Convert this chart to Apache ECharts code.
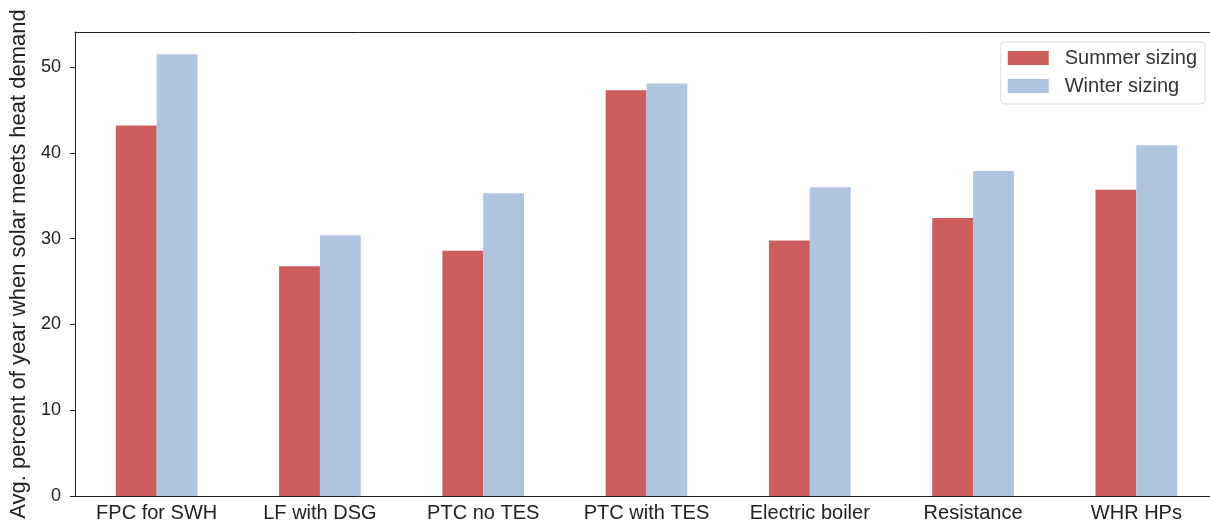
<!DOCTYPE html>
<html><head><meta charset="utf-8">
<script src="https://cdn.jsdelivr.net/npm/echarts@6/dist/echarts.min.js"></script>
<style>html,body{margin:0;padding:0;background:#fff}#c{width:1210px;height:527px}</style>
</head><body><div id="c"></div>
<script>
const categories = ["FPC for SWH","LF with DSG","PTC no TES","PTC with TES","Electric boiler","Resistance","WHR HPs"];
const summerSizing = [43.2, 26.8, 28.6, 47.3, 29.8, 32.4, 35.7];
const winterSizing = [51.5, 30.4, 35.3, 48.1, 36.0, 37.9, 40.9];
const seriesNames = ["Summer sizing","Winter sizing"];
const yAxisTitle = "Avg. percent of year when solar meets heat demand";

const chart = echarts.init(document.getElementById('c'));
const font = "'Liberation Sans', Arial, sans-serif";
chart.setOption({
  animation:false,
  grid:{left:75, top:32, bottom:31, right:-8, containLabel:false, outerBoundsMode:'none'},
  legend:{
    right:5, top:42, orient:'vertical',
    data:seriesNames,
    itemWidth:41, itemHeight:14, itemGap:8,
    icon:'rect',
    borderColor:'#dcdcdc', borderWidth:1, borderRadius:4,
    padding:[6,8,8,7],
    textStyle:{fontFamily:font, fontSize:20, color:'#333', padding:[0,0,0,11]}
  },
  xAxis:[{
    type:'category', data:categories,
    axisLine:{lineStyle:{color:'#222', width:1}},
    axisTick:{alignWithLabel:true, length:5, lineStyle:{color:'#222'}},
    axisLabel:{fontFamily:font, fontSize:20, color:'#222', margin:7, interval:0}
  },{
    type:'category', data:categories, position:'top',
    axisLine:{lineStyle:{color:'#222', width:1}},
    axisTick:{show:false}, axisLabel:{show:false}
  }],
  yAxis:{
    type:'value', min:0, max:54.1, interval:10,
    name:yAxisTitle, nameLocation:'middle', nameGap:45,
    nameTextStyle:{fontFamily:font, fontSize:22, color:'#222'},
    axisLine:{show:true, lineStyle:{color:'#222'}},
    axisTick:{show:true, length:5, lineStyle:{color:'#222'}},
    axisLabel:{fontFamily:font, fontSize:18, color:'#222', margin:14, showMaxLabel:false},
    splitLine:{show:false}
  },
  series:[
    {name:seriesNames[0], type:'bar', data:summerSizing, barWidth:'25%', barGap:'0%', itemStyle:{color:'#CD5C5C'}},
    {name:seriesNames[1], type:'bar', data:winterSizing, barWidth:'25%', barGap:'0%', itemStyle:{color:'#B0C4DE'}}
  ]
});
</script></body></html>
